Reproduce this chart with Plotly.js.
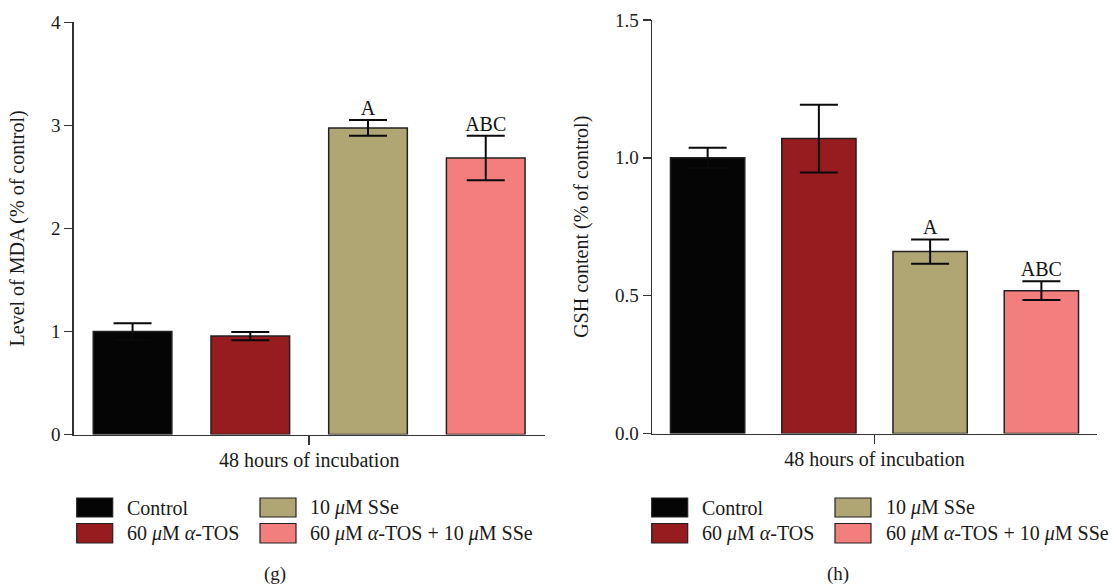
<!DOCTYPE html>
<html>
<head>
<meta charset="utf-8">
<script src="https://cdn.plot.ly/plotly-3.0.1.min.js"></script>
<style>
html, body { margin: 0; padding: 0; background: #fff; }
#chart { width: 1114px; height: 588px; }
</style>
</head>
<body>
<div id="chart"></div>
<script>
// ---- data ----
const groups = ['Control', '60 <i>μ</i>M <i>α</i>-TOS', '10 <i>μ</i>M SSe', '60 <i>μ</i>M <i>α</i>-TOS + 10 <i>μ</i>M SSe'];
const groupColors = ['#050505', '#961c20', '#afa674', '#f27f7e'];
const groupPositions = [0, 1, 2, 3];
const mdaValues = [1.00, 0.955, 2.975, 2.683];
const mdaErrors = [0.08, 0.04, 0.077, 0.215];
const mdaLabels = ['', '', 'A', 'ABC'];
const gshValues = [1.00, 1.070, 0.660, 0.518];
const gshErrors = [0.037, 0.123, 0.044, 0.034];
const gshLabels = ['', '', 'A', 'ABC'];
const xTitle = '48 hours of incubation';
const mdaTitle = 'Level of MDA (% of control)';
const gshTitle = 'GSH content (% of control)';
const panelLabels = ['(g)', '(h)'];
// legend layout: [row, col] for each group
const legendSlots = [[0, 0], [1, 0], [0, 1], [1, 1]];

// ---- helpers ----
const W = 1114, H = 588;
const fx = px => px / W;
const fy = py => 1 - py / H;
const FONT = '"Liberation Serif", serif';
const INK = '#1a1a1a';

function barTraces(values, errors, labels, xa, ya) {
  const traces = groups.map((g, i) => ({
    type: 'bar',
    x: [groupPositions[i]],
    y: [values[i]],
    width: 0.668,
    name: g,
    xaxis: xa, yaxis: ya,
    showlegend: false,
    marker: { color: groupColors[i], line: { color: '#222', width: 1.5 } },
    error_y: { type: 'data', array: [errors[i]], visible: true, color: '#0a0a0a', thickness: 2, width: 19 },
    hoverinfo: 'y'
  }));
  traces.push({
    type: 'scatter', mode: 'text',
    x: groupPositions, y: values.map((v, i) => v + errors[i]),
    text: labels, textposition: 'top center',
    textfont: { family: FONT, size: 20, color: '#111' },
    xaxis: xa, yaxis: ya, showlegend: false, hoverinfo: 'skip', cliponaxis: false
  });
  return traces;
}

const data = [
  ...barTraces(mdaValues, mdaErrors, mdaLabels, 'x', 'y'),
  ...barTraces(gshValues, gshErrors, gshLabels, 'x2', 'y2')
];

const xaxisBase = {
  range: [-0.5, 3.5],
  tickvals: [1.5], ticktext: [''],
  ticks: 'outside', ticklen: 9, tickwidth: 1.5, tickcolor: '#333',
  showline: true, linecolor: '#333', linewidth: 1.5,
  showgrid: false, zeroline: false, fixedrange: true,
  title: { text: xTitle, font: { family: FONT, size: 20, color: INK }, standoff: 5 }
};
const yaxisBase = {
  ticks: 'outside', ticklen: 8, tickwidth: 1.5, tickcolor: '#333',
  showline: true, linecolor: '#333', linewidth: 1.5,
  showgrid: false, zeroline: false, fixedrange: true,
  tickfont: { family: FONT, size: 19, color: INK }
};

const shapes = [];
const annotations = [];
const legendOrigins = [
  { swX: [76.7, 260], txtX: [125, 308] },
  { swX: [651.7, 835], txtX: [700, 884.3] }
];
const rowsY = [[498, 517], [523.5, 543]];
legendOrigins.forEach(o => {
  groups.forEach((g, i) => {
    const [r, c] = legendSlots[i];
    const x0 = o.swX[c], x1 = x0 + 36;
    const y0 = rowsY[r][0], y1 = rowsY[r][1];
    shapes.push({
      type: 'rect', xref: 'paper', yref: 'paper',
      x0: fx(x0), x1: fx(x1), y0: fy(y1), y1: fy(y0),
      fillcolor: groupColors[i], line: { color: '#222', width: 1.2 }
    });
    annotations.push({
      xref: 'paper', yref: 'paper', x: fx(o.txtX[c]), y: fy((y0 + y1) / 2),
      xanchor: 'left', yanchor: 'middle', showarrow: false,
      text: g, font: { family: FONT, size: 20, color: INK }
    });
  });
});
[275, 838].forEach((cx, i) => {
  annotations.push({
    xref: 'paper', yref: 'paper', x: fx(cx), y: fy(574),
    xanchor: 'center', yanchor: 'middle', showarrow: false, borderpad: 0,
    text: panelLabels[i], font: { family: FONT, size: 19, color: INK }
  });
});

const layout = {
  width: W, height: H,
  margin: { l: 0, r: 0, t: 0, b: 0, pad: 0 },
  paper_bgcolor: '#fff', plot_bgcolor: '#fff',
  barmode: 'overlay',
  showlegend: false,
  font: { family: FONT, size: 20, color: INK },
  xaxis: Object.assign({}, xaxisBase, { domain: [fx(73.7), fx(544.6)], anchor: 'y' }),
  yaxis: Object.assign({}, yaxisBase, {
    domain: [fy(434.5), fy(22.3)], anchor: 'x',
    range: [0, 4], tickvals: [0, 1, 2, 3, 4],
    title: { text: mdaTitle, font: { family: FONT, size: 20, color: INK }, standoff: 21 }
  }),
  xaxis2: Object.assign({}, xaxisBase, { domain: [fx(652), fx(1097)], anchor: 'y2' }),
  yaxis2: Object.assign({}, yaxisBase, {
    domain: [fy(433.5), fy(20)], anchor: 'x2',
    range: [0, 1.5], tickvals: [0, 0.5, 1.0, 1.5], tickformat: '.1f',
    title: { text: gshTitle, font: { family: FONT, size: 20, color: INK }, standoff: 21 }
  }),
  shapes: shapes,
  annotations: annotations
};

Plotly.newPlot('chart', data, layout, { displayModeBar: false, staticPlot: true });
</script>
</body>
</html>
